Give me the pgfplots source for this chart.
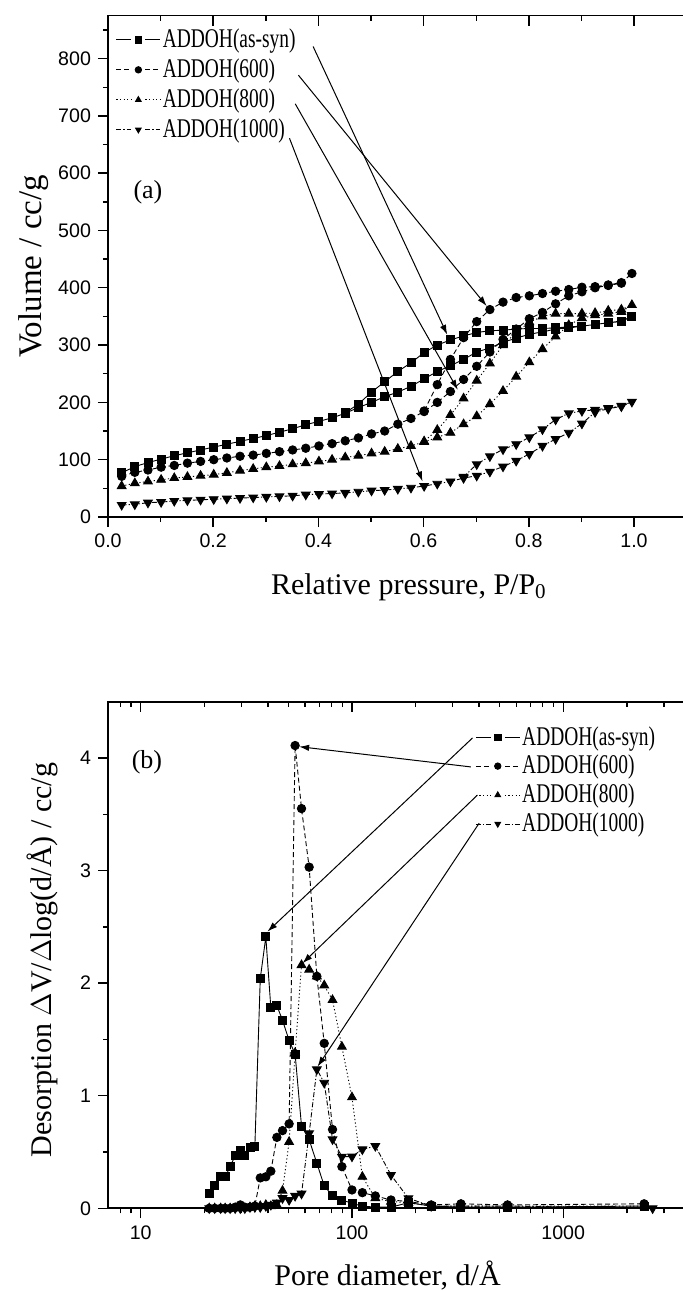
\documentclass[border=0pt]{standalone}
\usepackage{fontspec}
\setmainfont{Liberation Serif}
\newfontfamily\sansf{Liberation Sans}
\newfontfamily\condf[FakeStretch=0.72]{Liberation Serif}
\usepackage{pgfplots}
\pgfplotsset{compat=1.18}
\usetikzlibrary{arrows.meta}

\pgfplotsset{
  common/.style={
    scale only axis,
    axis line style={line width=0.9pt},
    tick style={black, line width=0.7pt},
    major tick length=5pt, minor tick length=2.5pt,
    tick label style={font=\sansf\fontsize{9.8}{11}\selectfont},
    label style={font=\fontsize{15}{18}\selectfont},
    clip=false,
  },
  s1/.style={black, line width=0.45pt, solid, mark=square*, mark size=2pt, mark options={solid, fill=black}},
  s2/.style={black, line width=0.45pt, dash pattern=on 2.5pt off 1.5pt, mark=*, mark size=2.1pt, mark options={solid, fill=black}},
  s3/.style={black, line width=0.45pt, dash pattern=on 0.6pt off 1.2pt, mark=triangle*, mark size=2.5pt, mark options={solid, fill=black}},
  s4/.style={black, line width=0.45pt, dash pattern=on 2.5pt off 1pt on 0.6pt off 1pt, mark=triangle*, mark size=2.5pt, mark options={solid, fill=black, rotate=180}},
  leg/.style={
    legend cell align=left,
    legend image code/.code={
      \draw (0pt,0pt) -- (7.5pt,0pt) (14.5pt,0pt) -- (22pt,0pt);
      \draw[mark size=1.6pt] plot[only marks] coordinates {(11pt,0pt)};
    },
  },
}
\tikzset{arr/.style={-{Latex[length=5pt,width=3.2pt]}, line width=0.5pt, black}}

\begin{document}
\begin{tikzpicture}
%================ TOP PANEL (a) =================
\begin{axis}[common, leg,
  at={(0pt,0pt)}, anchor=south west,
  width=289.3pt, height=250.7pt,
  xmin=0, xmax=1.1, ymin=0, ymax=875,
  xtick={0,0.2,0.4,0.6,0.8,1.0}, xticklabels={0.0,0.2,0.4,0.6,0.8,1.0},
  minor xtick={0.1,0.3,0.5,0.7,0.9},
  ytick={0,100,200,300,400,500,600,700,800}, yticklabels={0,100,200,300,400,500,600,700,800},
  minor ytick={50,150,250,350,450,550,650,750,850},
  xtick pos=left, ytick pos=left, tick align=outside,
  xlabel={Relative pressure, P/P\textsubscript{0}},
  ylabel={Volume / cc/g},
  xlabel style={at={(axis description cs:0.52,-0.14)}, anchor=center},
  ylabel style={at={(axis description cs:-0.128,0.5)}, anchor=center, font=\fontsize{16.5}{19}\selectfont},
  legend style={at={(axis description cs:0.013,0.978)}, anchor=north west, draw=none, fill=none,
    inner sep=0pt, row sep=2.1pt, font=\condf\fontsize{13.5}{15}\selectfont, nodes={inner sep=1pt}},
]
\addplot[s1] coordinates {
(0.026,77)(0.051,88)(0.076,95)(0.101,101)(0.126,107)(0.151,112)(0.176,117)(0.201,122)(0.226,127)(0.251,132)
(0.276,137)(0.301,142)(0.326,148)(0.351,154)(0.376,161)(0.401,167)(0.426,173)(0.451,181)(0.476,191)(0.501,200)
(0.526,210)(0.551,218)(0.576,228)(0.601,241)(0.626,254)(0.651,264)(0.676,275)(0.701,288)(0.726,295)(0.751,305)
(0.776,312)(0.801,319)(0.826,323)(0.851,328)(0.876,330)(0.901,333)(0.926,336)(0.951,339)(0.976,341)(0.996,350)
(0.976,342)(0.951,339)(0.926,336)(0.901,333)(0.876,332)(0.851,330)(0.826,329)(0.801,329)(0.776,328)(0.751,326)
(0.726,325)(0.701,322)(0.676,316)(0.651,309)(0.626,300)(0.601,287)(0.576,269)(0.551,254)(0.526,236)(0.501,218)
(0.476,197)(0.451,182)};
\addplot[s2] coordinates {
(0.026,71)(0.051,78)(0.076,82)(0.101,87)(0.126,90)(0.151,94)(0.176,97)(0.201,100)(0.226,103)(0.251,106)
(0.276,108)(0.301,111)(0.326,114)(0.351,117)(0.376,120)(0.401,124)(0.426,128)(0.451,133)(0.476,138)(0.501,145)
(0.526,150)(0.551,162)(0.576,172)(0.601,184)(0.626,200)(0.651,219)(0.676,240)(0.701,263)(0.726,288)(0.751,310)
(0.776,328)(0.801,346)(0.826,357)(0.851,372)(0.876,386)(0.901,393)(0.926,400)(0.951,404)(0.976,408)(0.996,425)
(0.976,409)(0.951,405)(0.926,402)(0.901,401)(0.876,397)(0.851,394)(0.826,390)(0.801,386)(0.776,383)(0.751,375)
(0.726,362)(0.701,341)(0.676,313)(0.651,275)(0.626,231)(0.601,185)};
\addplot[s3] coordinates {
(0.026,54)(0.051,59)(0.076,62)(0.101,65)(0.126,68)(0.151,70)(0.176,72)(0.201,74)(0.226,77)(0.251,81)
(0.276,84)(0.301,87)(0.326,89)(0.351,92)(0.376,94)(0.401,97)(0.426,100)(0.451,104)(0.476,107)(0.501,111)
(0.526,114)(0.551,119)(0.576,124)(0.601,131)(0.626,139)(0.651,147)(0.676,162)(0.701,176)(0.726,197)(0.751,220)
(0.776,245)(0.801,270)(0.826,293)(0.851,315)(0.876,335)(0.901,347)(0.926,352)(0.951,355)(0.976,358)(0.996,370)
(0.976,362)(0.951,360)(0.926,356)(0.901,355)(0.876,355)(0.851,355)(0.826,350)(0.801,340)(0.776,322)(0.751,300)
(0.726,268)(0.701,238)(0.676,207)(0.651,178)(0.626,152)(0.601,132)};
\addplot[s4] coordinates {
(0.026,21)(0.051,22)(0.076,25)(0.101,26)(0.126,28)(0.151,29)(0.176,30)(0.201,31)(0.226,32)(0.251,33)
(0.276,34)(0.301,35)(0.326,36)(0.351,37)(0.376,39)(0.401,40)(0.426,41)(0.451,42)(0.476,44)(0.501,46)
(0.526,47)(0.551,49)(0.576,51)(0.601,54)(0.626,58)(0.651,62)(0.676,68)(0.701,72)(0.726,79)(0.751,88)
(0.776,98)(0.801,110)(0.826,124)(0.851,136)(0.876,147)(0.901,163)(0.926,183)(0.951,189)(0.976,193)(0.996,201)
(0.976,194)(0.951,190)(0.926,187)(0.901,185)(0.876,181)(0.851,170)(0.826,153)(0.801,139)(0.776,127)(0.751,118)
(0.726,106)(0.701,92)(0.676,70)};
\legend{ADDOH(as-syn),ADDOH(600),ADDOH(800),ADDOH(1000)}
\draw[arr] (axis cs:0.39,821) -- (axis cs:0.645,318);
\draw[arr] (axis cs:0.362,771) -- (axis cs:0.72,368);
\draw[arr] (axis cs:0.356,721) -- (axis cs:0.665,222);
\draw[arr] (axis cs:0.345,661) -- (axis cs:0.598,62);
\node[font=\fontsize{13}{15}\selectfont] at (axis cs:0.076,567) {(a)};
\end{axis}
% top inward ticks
\begin{axis}[common,
  at={(0pt,0pt)}, anchor=south west,
  width=289.3pt, height=250.7pt,
  xmin=0, xmax=1.1, ymin=0, ymax=875,
  axis x line*=top, axis y line=none, tick align=inside,
  xtick={0,0.2,0.4,0.6,0.8,1.0}, xticklabels={}, minor xtick={0.1,0.3,0.5,0.7,0.9},
]
\end{axis}

%================ BOTTOM PANEL (b) =================
\begin{axis}[common, leg,
  at={(0pt,-345.65pt)}, anchor=south west,
  width=291.2pt, height=253.35pt,
  xmode=log, xmin=7, xmax=4000, ymin=0, ymax=4.5,
  xtick={10,100,1000}, xticklabels={10,100,1000},
  minor xtick={8,9,20,30,40,50,60,70,80,90,200,300,400,500,600,700,800,900,2000,3000},
  ytick={0,1,2,3,4}, yticklabels={0,1,2,3,4}, minor ytick={0.5,1.5,2.5,3.5},
  xtick pos=left, ytick pos=left, tick align=outside,
  xlabel={Pore diameter, d/Å},
  ylabel={Desorption $\Delta$V/$\Delta$log(d/Å) / cc/g},
  xlabel style={at={(axis description cs:0.48,-0.132)}, anchor=center},
  ylabel style={at={(axis description cs:-0.113,0.49)}, anchor=center},
  legend style={at={(axis description cs:0.630,0.956)}, anchor=north west, draw=none, fill=none,
    inner sep=0pt, row sep=1.6pt, font=\condf\fontsize{13.5}{15}\selectfont, nodes={inner sep=1pt}},
]
\addplot[s1] coordinates {
(21.1,0.133)(22.4,0.20)(23.9,0.28)(25.1,0.28)(26.5,0.37)(28.0,0.47)(29.6,0.51)(31.1,0.47)(32.9,0.54)(34.7,0.55)
(36.8,2.04)(39.1,2.41)(41.3,1.78)(44.1,1.80)(46.9,1.67)(50.4,1.49)(53.8,1.37)(57.7,0.73)(62.7,0.61)(68.2,0.40)
(73.9,0.20)(80.9,0.11)(89.6,0.074)(100,0.044)(112,0.02)(129,0.01)(153,0.01)(185,0.05)(237,0.02)(328,0.01)
(545,0.01)(2415,0.02)};
\addplot[s2] coordinates {
(21.1,0)(22.4,0)(23.9,0)(25.1,0)(26.5,0)(28.0,0.01)(29.6,0.03)(31.1,0.01)(32.9,0.01)(34.7,0.02)
(36.8,0.27)(39.1,0.28)(41.3,0.33)(44.1,0.63)(46.9,0.69)(50.4,0.75)(53.8,4.11)(57.7,3.55)(62.7,3.03)(68.2,2.06)
(73.9,1.465)(80.9,0.70)(89.6,0.37)(100,0.163)(112,0.139)(129,0.11)(153,0.074)(185,0.06)(237,0.03)(328,0.04)
(545,0.03)(2415,0.04)};
\addplot[s3] coordinates {
(21.1,0)(22.4,0)(23.9,0)(25.1,0)(26.5,0)(28.0,0)(29.6,0.01)(31.1,0)(32.9,0.01)(34.7,0.02)
(36.8,0.02)(39.1,0.03)(41.3,0.02)(44.1,0.03)(46.9,0.156)(50.4,0.59)(53.8,1.38)(57.7,2.16)(62.7,2.12)(68.2,2.06)
(73.9,1.98)(80.9,1.85)(89.6,1.435)(100,0.986)(112,0.28)(129,0.09)(153,0.06)(185,0.05)(237,0.02)(328,0.02)
(545,0.02)(2415,0.02)};
\addplot[s4] coordinates {
(21.1,0)(22.4,0)(23.9,0)(25.1,0)(26.5,0)(28.0,0)(29.6,0)(31.1,0)(32.9,0.01)(34.7,0.01)
(36.8,0.01)(39.1,0.02)(41.3,0.03)(44.1,0.05)(46.9,0.09)(50.4,0.074)(53.8,0.11)(57.7,0.13)(62.7,0.666)(68.2,1.234)
(73.9,1.115)(80.9,0.613)(89.6,0.458)(100,0.46)(112,0.523)(129,0.553)(153,0.296)(185,0.089)(237,0.02)(328,0.02)
(545,0.02)(2650,0)};
\legend{ADDOH(as-syn),ADDOH(600),ADDOH(800),ADDOH(1000)}
\draw[arr] (axis cs:372,4.177) -- (axis cs:39.8,2.457);
\draw[arr] (axis cs:365.6,3.92) -- (axis cs:56.2,4.1);
\draw[arr] (axis cs:392.6,3.67) -- (axis cs:58.3,2.176);
\draw[arr] (axis cs:399.9,3.42) -- (axis cs:68.7,1.258);
\node[font=\fontsize{13}{15}\selectfont] at (axis cs:10.7,3.96) {(b)};
\end{axis}
\begin{axis}[common,
  at={(0pt,-345.65pt)}, anchor=south west,
  width=291.2pt, height=253.35pt,
  xmode=log, xmin=7, xmax=4000, ymin=0, ymax=4.5,
  axis x line*=top, axis y line=none, tick align=inside,
  xtick={10,100,1000}, xticklabels={},
  minor xtick={8,9,20,30,40,50,60,70,80,90,200,300,400,500,600,700,800,900,2000,3000},
]
\end{axis}
\pgfresetboundingbox
\path[use as bounding box] (-54pt,-387pt) rectangle (287.5pt,258.5pt);
\end{tikzpicture}
\end{document}
